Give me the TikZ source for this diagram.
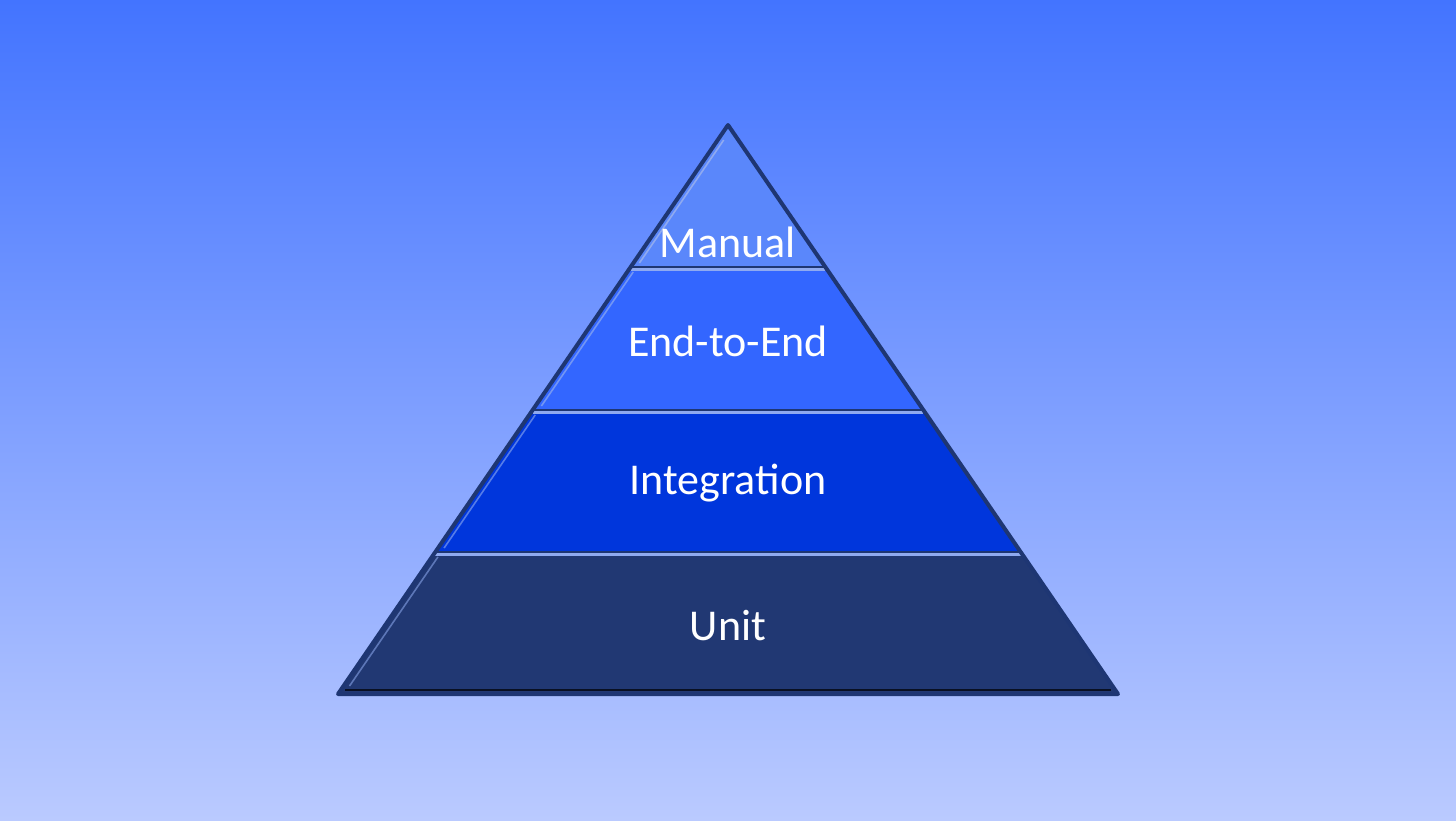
\documentclass[tikz,border=0pt]{standalone}
\usepackage{fontspec}
\setmainfont{Carlito}
\begin{document}
\begin{tikzpicture}[x=1pt,y=-1pt,
  lbl/.style={text=white,font=\fontsize{44}{52}\selectfont,inner sep=0pt,anchor=base},
  outline/.style={draw=edge,line width=4pt,line join=round},
  sepdark/.style={draw=edge,line width=2.5pt},
  seplight/.style={draw=hilite,line width=2.5pt},
  hl/.style={line width=1.6pt},
]
\definecolor{bgtop}{HTML}{4374FF}
\definecolor{bgbot}{HTML}{BACAFF}
\definecolor{edge}{HTML}{1E3673}
\definecolor{hilite}{HTML}{8FAAF0}
\definecolor{manualc}{HTML}{5A87FB}
\definecolor{e2ec}{HTML}{3366FF}
\definecolor{integc}{HTML}{0036DC}
\definecolor{unitc}{HTML}{213873}
\useasboundingbox (0,0) rectangle (1456,820);
\shade[top color=bgtop,bottom color=bgbot] (0,0) rectangle (1456,820);
% apex and corners
\coordinate (apex) at (728,125);
\coordinate (bl) at (338,694);
\coordinate (br) at (1118,694);
\coordinate (l1) at (630.7,267); \coordinate (r1) at (825.3,267);
\coordinate (l2) at (532.7,410); \coordinate (r2) at (923.3,410);
\coordinate (l3) at (435.3,552); \coordinate (r3) at (1020.7,552);
% bands
\fill[manualc] (apex) -- (r1) -- (l1) -- cycle;
\fill[e2ec] (l1) -- (r1) -- (r2) -- (l2) -- cycle;
\fill[integc] (l2) -- (r2) -- (r3) -- (l3) -- cycle;
\fill[unitc] (l3) -- (r3) -- (br) -- (bl) -- cycle;
% inner highlights along left edges
\coordinate (h1a) at (723.7,140); \coordinate (h1b) at (639.4,263);
\coordinate (h2a) at (633.2,272); \coordinate (h2b) at (541.4,406);
\coordinate (h3a) at (535.2,415); \coordinate (h3b) at (444.1,548);
\coordinate (h4a) at (437.9,557); \coordinate (h4b) at (349.5,686);
\draw[hl,draw=hilite] (h1a) -- (h1b);
\draw[hl,draw=hilite!70!e2ec] (h2a) -- (h2b);
\draw[hl,draw=hilite!60!integc] (h3a) -- (h3b);
\draw[hl,draw=hilite!55!unitc] (h4a) -- (h4b);
% separators
\draw[sepdark] (l1) -- (r1);
\draw[seplight] ([yshift=-2.5pt]l1) -- ([yshift=-2.5pt]r1);
\draw[sepdark] (l2) -- (r2);
\draw[seplight] ([yshift=-2.5pt]l2) -- ([yshift=-2.5pt]r2);
\draw[sepdark] (l3) -- (r3);
\draw[seplight] ([yshift=-2.5pt]l3) -- ([yshift=-2.5pt]r3);
\coordinate (b1) at (345,690); \coordinate (b2) at (1111,690);
\draw[draw=black!70!edge,line width=2pt] (b1) -- (b2);
% outline
\draw[outline] (apex) -- (br) -- (bl) -- cycle;
% labels
\node[lbl] (manual) at (728,257) {Manual};
\node[lbl] (e2e) at (728,356) {End-to-End};
\node[lbl] (integ) at (728,494) {Integration};
\node[lbl] (unit) at (728,640) {Unit};
\end{tikzpicture}
\end{document}
